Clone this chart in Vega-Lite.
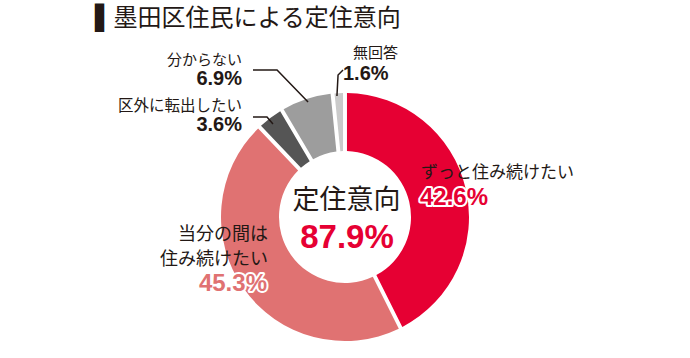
{
  "$schema": "https://vega.github.io/schema/vega-lite/v6.json",
  "width": 690,
  "height": 280,
  "autosize": {"type": "none"},
  "padding": {"top": 77, "left": 0, "right": 0, "bottom": 1},
  "background": "white",
  "title": {
    "text": "▌墨田区住民による定住意向",
    "anchor": "start",
    "frame": "group",
    "dx": 95,
    "offset": -4,
    "baseline": "alphabetic",
    "font": "DejaVu Sans, Noto Sans CJK JP",
    "fontSize": 24,
    "fontWeight": "normal",
    "color": "#231815"
  },
  "config": {"view": {"stroke": null}},
  "layer": [
    {
      "data": {
        "values": [
          {"category": "ずっと住み続けたい", "label": "ずっと住み続けたい", "value": 42.6, "rank": 1},
          {"category": "当分の間は住み続けたい", "label": "当分の間は\n住み続けたい", "value": 45.3, "rank": 2},
          {"category": "区外に転出したい", "label": "区外に転出したい", "value": 3.6, "rank": 3},
          {"category": "分からない", "label": "分からない", "value": 6.9, "rank": 4},
          {"category": "無回答", "label": "無回答", "value": 1.6, "rank": 5}
        ]
      },
      "transform": [
        {"stack": "value", "groupby": [], "sort": [{"field": "rank", "order": "ascending"}], "as": ["v0", "v1"]},
        {"calculate": "(datum.v0 + datum.v1) / 2", "as": "mid"},
        {"calculate": "datum.value / 100", "as": "share"}
      ],
      "layer": [
        {
          "mark": {"type": "arc", "outerRadius": 124, "innerRadius": 66, "padAngle": 0.028},
          "encoding": {
            "theta": {"field": "v0", "type": "quantitative", "scale": {"domain": [0, 100]}},
            "theta2": {"field": "v1"},
            "color": {
              "field": "category",
              "type": "nominal",
              "legend": null,
              "scale": {
                "domain": ["ずっと住み続けたい", "当分の間は住み続けたい", "区外に転出したい", "分からない", "無回答"],
                "range": ["#e60033", "#e07272", "#555555", "#9d9d9d", "#cacaca"]
              }
            }
          }
        },
        {
          "transform": [{"filter": "datum.rank == 1"}],
          "mark": {"type": "text", "radius": 90, "dx": -11.6, "dy": -23.3, "align": "left", "baseline": "middle", "font": "Noto Sans CJK JP", "fontSize": 17, "color": "#231815"},
          "encoding": {"theta": {"field": "mid", "type": "quantitative", "stack": null}, "text": {"field": "label"}}
        },
        {
          "transform": [{"filter": "datum.rank == 1"}],
          "mark": {"type": "text", "radius": 90, "dx": -12.6, "dy": 1.7, "align": "left", "baseline": "middle", "font": "Liberation Sans", "fontWeight": "bold", "fontSize": 24, "color": "white", "stroke": "white", "strokeWidth": 4, "strokeJoin": "round"},
          "encoding": {"theta": {"field": "mid", "type": "quantitative", "stack": null}, "text": {"field": "share", "format": ".1%"}}
        },
        {
          "transform": [{"filter": "datum.rank == 1"}],
          "mark": {"type": "text", "radius": 90, "dx": -12.6, "dy": 1.7, "align": "left", "baseline": "middle", "font": "Liberation Sans", "fontWeight": "bold", "fontSize": 24, "color": "#e60033"},
          "encoding": {"theta": {"field": "mid", "type": "quantitative", "stack": null}, "text": {"field": "share", "format": ".1%"}}
        },
        {
          "transform": [{"filter": "datum.rank == 2"}],
          "mark": {"type": "text", "radius": 100, "dx": 4.8, "dy": -39.5, "align": "right", "baseline": "middle", "lineBreak": "\n", "lineHeight": 25, "font": "Noto Sans CJK JP", "fontSize": 18, "color": "#231815"},
          "encoding": {"theta": {"field": "mid", "type": "quantitative", "stack": null}, "text": {"field": "label"}}
        },
        {
          "transform": [{"filter": "datum.rank == 2"}],
          "mark": {"type": "text", "radius": 100, "dx": 3.8, "dy": 9.5, "align": "right", "baseline": "middle", "font": "Liberation Sans", "fontWeight": "bold", "fontSize": 24, "color": "white", "stroke": "white", "strokeWidth": 4, "strokeJoin": "round"},
          "encoding": {"theta": {"field": "mid", "type": "quantitative", "stack": null}, "text": {"field": "share", "format": ".1%"}}
        },
        {
          "transform": [{"filter": "datum.rank == 2"}],
          "mark": {"type": "text", "radius": 100, "dx": 3.8, "dy": 9.5, "align": "right", "baseline": "middle", "font": "Liberation Sans", "fontWeight": "bold", "fontSize": 24, "color": "#e07272"},
          "encoding": {"theta": {"field": "mid", "type": "quantitative", "stack": null}, "text": {"field": "share", "format": ".1%"}}
        },
        {
          "transform": [{"filter": "datum.rank == 3"}],
          "mark": {"type": "text", "radius": 135, "dx": -21.6, "dy": -3.3, "align": "right", "baseline": "middle", "font": "Noto Sans CJK JP", "fontSize": 15.5, "color": "#231815"},
          "encoding": {"theta": {"field": "mid", "type": "quantitative", "stack": null}, "text": {"field": "label"}}
        },
        {
          "transform": [{"filter": "datum.rank == 3"}],
          "mark": {"type": "text", "radius": 135, "dx": -21.6, "dy": 15.7, "align": "right", "baseline": "middle", "font": "Liberation Sans", "fontWeight": "bold", "fontSize": 20, "color": "#231815"},
          "encoding": {"theta": {"field": "mid", "type": "quantitative", "stack": null}, "text": {"field": "share", "format": ".1%"}}
        },
        {
          "transform": [{"filter": "datum.rank == 4"}],
          "mark": {"type": "text", "radius": 150, "dx": -56.2, "dy": -14.5, "align": "right", "baseline": "middle", "font": "Noto Sans CJK JP", "fontSize": 15, "color": "#231815"},
          "encoding": {"theta": {"field": "mid", "type": "quantitative", "stack": null}, "text": {"field": "label"}}
        },
        {
          "transform": [{"filter": "datum.rank == 4"}],
          "mark": {"type": "text", "radius": 150, "dx": -56.2, "dy": 4.5, "align": "right", "baseline": "middle", "font": "Liberation Sans", "fontWeight": "bold", "fontSize": 20, "color": "#231815"},
          "encoding": {"theta": {"field": "mid", "type": "quantitative", "stack": null}, "text": {"field": "share", "format": ".1%"}}
        },
        {
          "transform": [{"filter": "datum.rank == 5"}],
          "mark": {"type": "text", "radius": 150, "dx": 15.5, "dy": -14.2, "align": "left", "baseline": "middle", "font": "Noto Sans CJK JP", "fontSize": 15, "color": "#231815"},
          "encoding": {"theta": {"field": "mid", "type": "quantitative", "stack": null}, "text": {"field": "label"}}
        },
        {
          "transform": [{"filter": "datum.rank == 5"}],
          "mark": {"type": "text", "radius": 150, "dx": 5.5, "dy": 6.8, "align": "left", "baseline": "middle", "font": "Liberation Sans", "fontWeight": "bold", "fontSize": 20, "color": "#231815"},
          "encoding": {"theta": {"field": "mid", "type": "quantitative", "stack": null}, "text": {"field": "share", "format": ".1%"}}
        }
      ]
    },
    {
      "data": {
        "values": [
          {"leader": "分からない", "i": 1, "x": -0.742, "y": 1.185},
          {"leader": "分からない", "i": 2, "x": -0.548, "y": 1.185},
          {"leader": "分からない", "i": 3, "x": -0.298, "y": 0.927},
          {"leader": "区外に転出したい", "i": 1, "x": -0.742, "y": 0.806},
          {"leader": "区外に転出したい", "i": 2, "x": -0.629, "y": 0.806},
          {"leader": "区外に転出したい", "i": 3, "x": -0.581, "y": 0.75},
          {"leader": "無回答", "i": 1, "x": -0.065, "y": 0.976},
          {"leader": "無回答", "i": 2, "x": -0.056, "y": 1.145},
          {"leader": "無回答", "i": 3, "x": -0.016, "y": 1.185}
        ]
      },
      "mark": {"type": "line", "color": "#231815", "strokeWidth": 1.5, "clip": false},
      "encoding": {
        "x": {"field": "x", "type": "quantitative", "axis": null, "scale": {"domain": [-2.7823, 2.7823], "nice": false, "zero": false}},
        "y": {"field": "y", "type": "quantitative", "axis": null, "scale": {"domain": [-1.129, 1.129], "nice": false, "zero": false}},
        "detail": {"field": "leader"},
        "order": {"field": "i"}
      }
    },
    {
      "data": {"values": [{"heading": "定住意向", "total": 0.879}]},
      "layer": [
        {
          "mark": {"type": "text", "dx": 1.5, "dy": -16, "align": "center", "baseline": "middle", "font": "Noto Sans CJK JP", "fontSize": 27, "color": "#231815"},
          "encoding": {"text": {"field": "heading"}}
        },
        {
          "mark": {"type": "text", "dx": 2, "dy": 21, "align": "center", "baseline": "middle", "font": "Liberation Sans", "fontWeight": "bold", "fontSize": 33, "color": "#e60033"},
          "encoding": {"text": {"field": "total", "format": ".1%"}}
        }
      ]
    }
  ]
}
